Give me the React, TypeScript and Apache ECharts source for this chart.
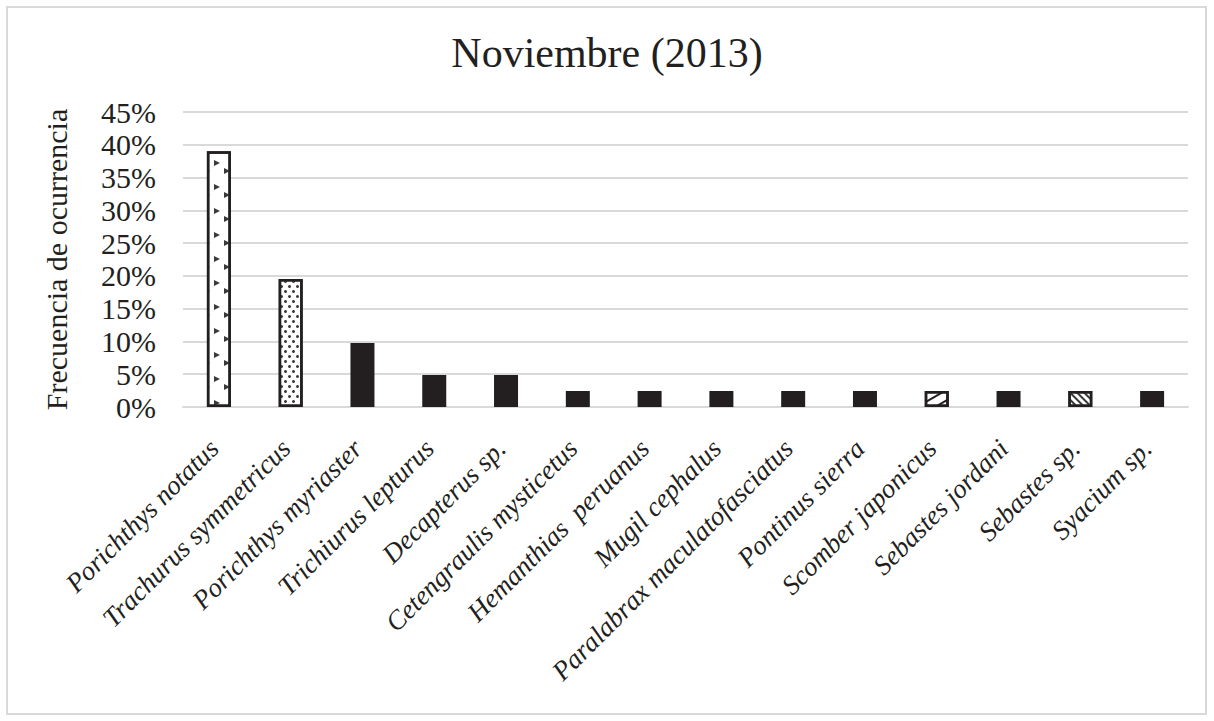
import React, { useEffect, useRef } from "react";
import * as echarts from "echarts";

// Species sampled in November 2013
const categories = [
  "Porichthys notatus",
  "Trachurus symmetricus",
  "Porichthys myriaster",
  "Trichiurus lepturus",
  "Decapterus sp.",
  "Cetengraulis mysticetus",
  "Hemanthias  peruanus",
  "Mugil cephalus",
  "Paralabrax maculatofasciatus",
  "Pontinus sierra",
  "Scomber japonicus",
  "Sebastes jordani",
  "Sebastes sp.",
  "Syacium sp.",
];

// Frequency of occurrence (%)
const frequency = [39.02, 19.51, 9.76, 4.88, 4.88, 2.44, 2.44, 2.44, 2.44, 2.44, 2.44, 2.44, 2.44, 2.44];

// Fill style per bar
const fills = [
  "coarse",
  "fine",
  "solid",
  "solid",
  "solid",
  "solid",
  "solid",
  "solid",
  "solid",
  "solid",
  "wave",
  "solid",
  "stripe",
  "solid",
];

const yTicks = { min: 0, max: 45, interval: 5 };

const INK = "#231f20";

function decalFor(kind: string): any {
  switch (kind) {
    case "coarse":
      return {
        symbol: "triangle",
        symbolSize: 1,
        rotation: Math.PI / 2,
        color: "#3a3a3a",
        backgroundColor: "#ffffff",
        dashArrayX: [[6, 18], [0, 16, 6, 2]],
        dashArrayY: [6, 4],
      };
    case "fine":
      return {
        symbol: "circle",
        symbolSize: 1,
        color: "#3a3a3a",
        backgroundColor: "#ffffff",
        dashArrayX: [[2.5, 4.5], [0, 3.5, 2.5, 1]],
        dashArrayY: [2.5, 1.5],
      };
    case "wave":
      return {
        symbol: "rect",
        symbolSize: 1,
        color: INK,
        backgroundColor: "#ffffff",
        dashArrayX: [1, 0],
        dashArrayY: [1.5, 7],
        rotation: -Math.PI / 6,
      };
    case "stripe":
      return {
        symbol: "rect",
        symbolSize: 1,
        color: "#3a3a3a",
        backgroundColor: "#ffffff",
        dashArrayX: [1, 0],
        dashArrayY: [2, 2.5],
        rotation: Math.PI / 4,
      };
    default:
      return null;
  }
}

export default function App() {
  const ref = useRef<HTMLDivElement>(null);

  useEffect(() => {
    document.body.style.margin = "0";
    if (!ref.current) return;
    const chart = echarts.init(ref.current, null, { renderer: "svg" });

    const data = frequency.map((v, i) => {
      const kind = fills[i];
      if (kind === "solid") {
        return { value: v, itemStyle: { color: INK } };
      }
      return {
        value: v,
        itemStyle: {
          color: "#ffffff",
          borderColor: INK,
          borderWidth: 2.5,
          decal: decalFor(kind),
        },
      };
    });

    chart.setOption({
      animation: false,
      backgroundColor: "#ffffff",
      title: {
        text: "Noviembre (2013)",
        left: "center",
        top: 27,
        textStyle: {
          fontFamily: "Liberation Serif",
          fontWeight: "normal",
          fontSize: 42,
          color: "#231f20",
        },
      },
      graphic: [
        {
          type: "rect",
          shape: { x: 7, y: 7, width: 1199, height: 707 },
          style: { fill: "none", stroke: "#d9d9d9", lineWidth: 2 },
          silent: true,
        },
      ],
      grid: { left: 183, right: 26, top: 112, bottom: 314 },
      xAxis: {
        type: "category",
        data: categories,
        axisLine: { show: true, lineStyle: { color: "#d9d9d9", width: 2 } },
        axisTick: { show: false },
        axisLabel: {
          interval: 0,
          rotate: 45,
          margin: 42,
          verticalAlign: "bottom",
          lineHeight: 14,
          fontFamily: "Liberation Serif",
          fontStyle: "italic",
          fontSize: 27,
          color: "#231f20",
        },
      },
      yAxis: {
        type: "value",
        min: yTicks.min,
        max: yTicks.max,
        interval: yTicks.interval,
        name: "Frecuencia de ocurrencia",
        nameLocation: "middle",
        nameGap: 112,
        nameRotate: 90,
        nameTextStyle: {
          fontFamily: "Liberation Serif",
          fontSize: 30,
          color: "#231f20",
        },
        axisLabel: {
          formatter: "{value}%",
          fontFamily: "Liberation Serif",
          fontSize: 30,
          color: "#231f20",
          margin: 27,
        },
        axisLine: { show: false },
        axisTick: { show: false },
        splitLine: { lineStyle: { color: "#d9d9d9", width: 2 } },
      },
      series: [
        {
          type: "bar",
          data,
          barWidth: 24,
        },
      ],
    });

    return () => chart.dispose();
  }, []);

  return <div ref={ref} style={{ width: 1214, height: 721 }} />;
}
